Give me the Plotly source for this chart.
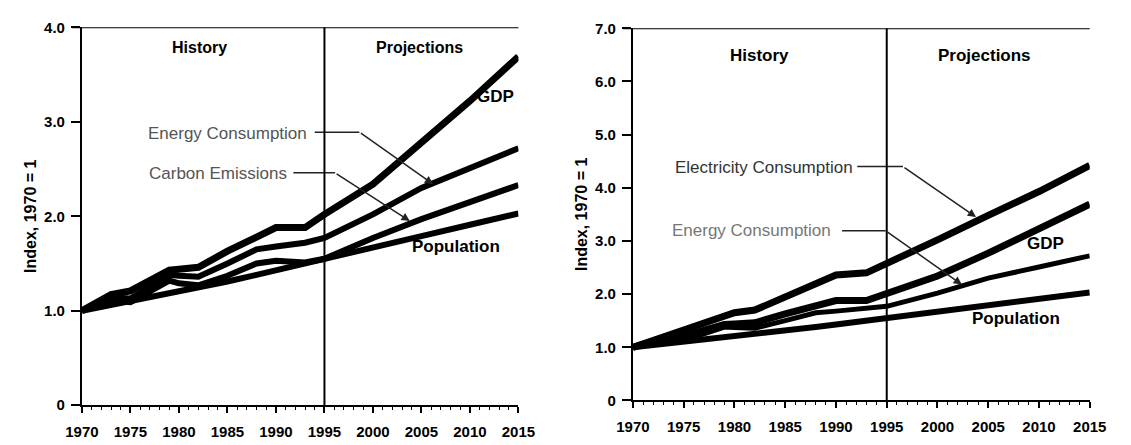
import plotly.graph_objects as go

# ---------------- data ----------------
years = [1970, 1973, 1975, 1979, 1980, 1982, 1985, 1988, 1990, 1993, 1995, 2000, 2005, 2010, 2015]
gdp = [1.00, 1.17, 1.21, 1.43, 1.44, 1.46, 1.63, 1.77, 1.88, 1.88, 2.02, 2.34, 2.77, 3.22, 3.69]
energy = [1.00, 1.14, 1.13, 1.38, 1.37, 1.36, 1.50, 1.65, 1.68, 1.72, 1.77, 2.02, 2.30, 2.51, 2.72]
carbon = [1.00, 1.11, 1.09, 1.32, 1.29, 1.27, 1.37, 1.50, 1.53, 1.51, 1.55, 1.77, 1.97, 2.15, 2.33]
population = [1.00, 1.06, 1.10, 1.18, 1.20, 1.24, 1.31, 1.38, 1.43, 1.50, 1.55, 1.67, 1.79, 1.91, 2.03]
electricity = [1.00, 1.20, 1.31, 1.58, 1.65, 1.70, 1.95, 2.22, 2.36, 2.40, 2.57, 3.02, 3.48, 3.93, 4.42]

x_ticks = [1970, 1975, 1980, 1985, 1990, 1995, 2000, 2005, 2010, 2015]
left_yticks = [0, 1, 2, 3, 4]
left_ytext = ["0", "1.0", "2.0", "3.0", "4.0"]
right_yticks = [0, 1, 2, 3, 4, 5, 6, 7]
right_ytext = ["0", "1.0", "2.0", "3.0", "4.0", "5.0", "6.0", "7.0"]
split_year = 1995

FONT = "Liberation Sans, Arial, sans-serif"
BLACK = "#000000"

fig = go.Figure()

def line(x, y, xa, ya, w):
    fig.add_trace(go.Scatter(x=x, y=y, mode="lines", xaxis=xa, yaxis=ya,
                             line=dict(color=BLACK, width=w), hoverinfo="skip",
                             showlegend=False))

# left chart
line(years, population, "x", "y", 6)
line(years, carbon, "x", "y", 6)
line(years, energy, "x", "y", 6)
line(years, gdp, "x", "y", 7)
# right chart
line(years, population, "x2", "y2", 6)
line(years, energy, "x2", "y2", 5)
line(years, gdp, "x2", "y2", 7)
line(years, electricity, "x2", "y2", 7)

axis_font = dict(family=FONT, size=15, color=BLACK)

def xaxis(domain, anchor):
    return dict(domain=domain, anchor=anchor, range=[1970, 2015], tickvals=x_ticks,
                ticktext=[f"<b>{t}</b>" for t in x_ticks],
                showline=True, linecolor=BLACK, linewidth=2, ticks="outside",
                ticklen=6, tickwidth=1.5, tickcolor=BLACK, showgrid=False,
                zeroline=False, tickfont=axis_font, ticklabelstandoff=6,
                minor=dict(dtick=1, ticks="outside", ticklen=3, tickcolor=BLACK, tickwidth=1))

def yaxis(domain, anchor, top, tv, tt):
    return dict(domain=domain, anchor=anchor, range=[0, top], tickvals=tv,
                ticktext=[f"<b>{t}</b>" for t in tt],
                showline=True, linecolor=BLACK, linewidth=2, ticks="outside",
                ticklen=9, tickwidth=1.5, tickcolor=BLACK, showgrid=False,
                zeroline=False, tickfont=axis_font, ticklabelstandoff=3,
                title=dict(text="<b>Index, 1970 = 1</b>", font=dict(family=FONT, size=16, color=BLACK),
                           standoff=3))

fig.update_layout(
    width=1131, height=445,
    margin=dict(l=0, r=0, t=0, b=0),
    paper_bgcolor="white", plot_bgcolor="white",
    font=dict(family=FONT, color=BLACK),
    xaxis=xaxis([0.0592, 0.4571], "y"),
    yaxis=yaxis([0.0742, 0.9573], "x", 4, left_yticks, left_ytext),
    xaxis2=xaxis([0.5615, 0.9779], "y2"),
    yaxis2=yaxis([0.0854, 0.955], "x2", 7, right_yticks, right_ytext),
)

# vertical split lines and top frame lines
for xr, yr, top in (("x", "y", 4), ("x2", "y2", 7)):
    fig.add_shape(type="line", xref=xr, yref=yr, x0=split_year, x1=split_year, y0=0, y1=top,
                  line=dict(color=BLACK, width=2))
    fig.add_shape(type="line", xref=f"{xr} domain", yref=yr, x0=-0.022, x1=1.0, y0=top, y1=top,
                  line=dict(color=BLACK, width=2))

def text(xr, yr, x, y, s, size=16, color=BLACK, bold=False, xanchor="center"):
    fig.add_annotation(xref=xr, yref=yr, x=x, y=y, text=f"<b>{s}</b>" if bold else s,
                       showarrow=False, xanchor=xanchor, yanchor="middle",
                       font=dict(family=FONT, size=size, color=color))

def leader(xr, yr, xa, ya, pts):
    (x0, y0), (x1, y1), (x2, y2) = pts
    fig.add_trace(go.Scatter(x=[x0, x1], y=[y0, y1], mode="lines", xaxis=xa, yaxis=ya,
                             line=dict(color="#222", width=1.5), hoverinfo="skip",
                             showlegend=False))
    fig.add_annotation(xref=xr, yref=yr, axref=xr, ayref=yr, x=x2, y=y2, ax=x1, ay=y1,
                       text="", showarrow=True, arrowhead=2, arrowsize=1.1,
                       arrowwidth=1.5, arrowcolor="#222")

# left annotations
text("x", "y", 1982.1, 3.79, "History", bold=True)
text("x", "y", 2004.8, 3.79, "Projections", bold=True)
text("x", "y", 2012.6, 3.27, "GDP", size=17, bold=True)
text("x", "y", 1993.4, 2.88, "Energy Consumption", size=17, color="#555", xanchor="right")
leader("x", "y", "x", "y", [(1994.0, 2.89), (1998.6, 2.89), (2006.2, 2.34)])
text("x", "y", 1991.3, 2.45, "Carbon Emissions", size=17, color="#555", xanchor="right")
leader("x", "y", "x", "y", [(1991.8, 2.46), (1996.1, 2.46), (2003.8, 1.95)])
text("x", "y", 2008.6, 1.68, "Population", size=17, bold=True)

# right annotations
text("x2", "y2", 1982.5, 6.49, "History", size=17, bold=True)
text("x2", "y2", 2004.6, 6.49, "Projections", size=17, bold=True)
text("x2", "y2", 1991.9, 4.39, "Electricity Consumption", size=17, color="#333", xanchor="right")
leader("x2", "y2", "x2", "y2", [(1992.1, 4.40), (1996.6, 4.40), (2003.8, 3.45)])
text("x2", "y2", 1989.7, 3.20, "Energy Consumption", size=17, color="#777", xanchor="right")
leader("x2", "y2", "x2", "y2", [(1990.6, 3.19), (1994.9, 3.19), (2002.4, 2.18)])
text("x2", "y2", 2010.6, 2.96, "GDP", size=17, bold=True)
text("x2", "y2", 2007.7, 1.55, "Population", size=17, bold=True)

# remove the browser's default 8px page margin so the figure sits at the window origin
fig.write_html("out.html", config={"displayModeBar": False},
               post_script="document.body.style.margin='0px';")
